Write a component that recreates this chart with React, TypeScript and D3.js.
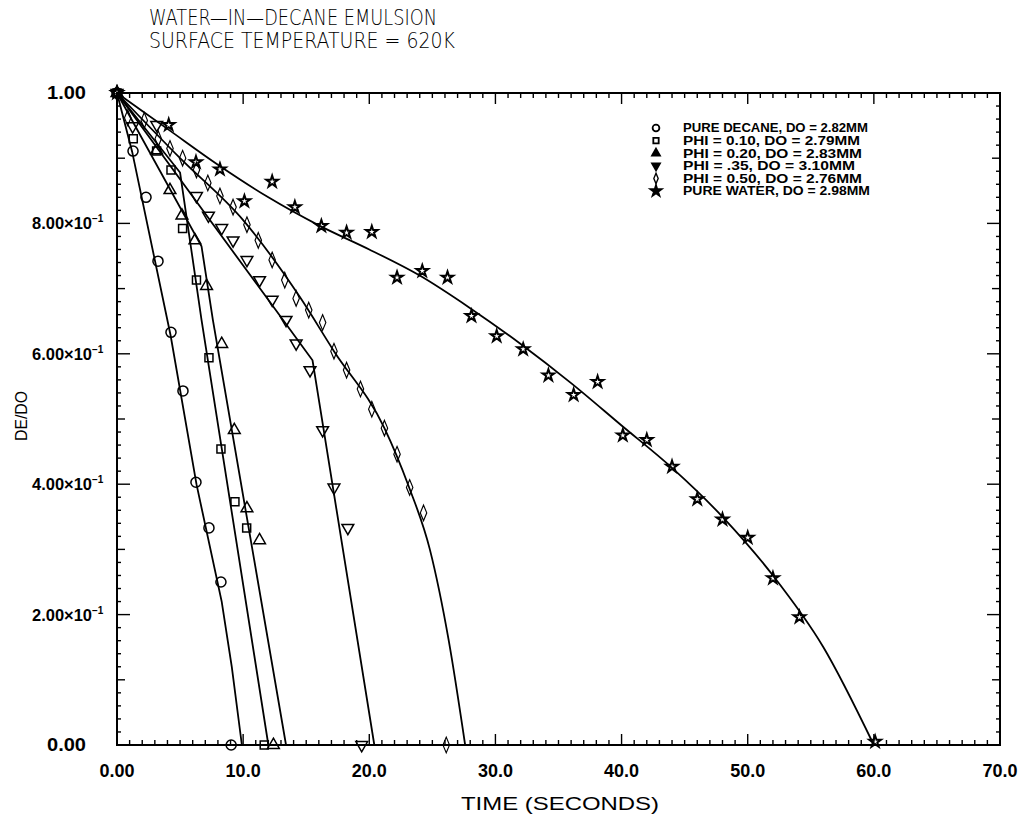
import React from 'react';
import * as d3 from 'd3';

// title / legend text
const titleLines = ['WATER—IN—DECANE EMULSION', 'SURFACE TEMPERATURE = 620K'];
const legendLabels = [
  'PURE DECANE, DO = 2.82MM',
  'PHI = 0.10, DO = 2.79MM',
  'PHI = 0.20, DO = 2.83MM',
  'PHI = .35, DO = 3.10MM',
  'PHI = 0.50, DO = 2.76MM',
  'PURE WATER, DO = 2.98MM',
];

// measured points [time (s), DE/DO]
const decanePts = [[0, 1], [1.27, 0.911], [2.3, 0.84], [3.25, 0.742], [4.28, 0.633], [5.23, 0.543], [6.26, 0.403], [7.29, 0.333], [8.24, 0.25], [9.05, 0]];
const phi10Pts = [[0, 1], [1.29, 0.93], [3.14, 0.911], [4.28, 0.882], [5.2, 0.792], [6.3, 0.713], [7.29, 0.594], [8.24, 0.454], [9.35, 0.373], [10.28, 0.333], [11.67, 0]];
const phi20Pts = [[0, 1], [3.14, 0.912], [4.2, 0.851], [5.15, 0.812], [6.18, 0.774], [7.1, 0.704], [8.3, 0.615], [9.3, 0.483], [10.3, 0.363], [11.3, 0.314], [12.4, 0]];
const phi35Pts = [[0, 1], [1.24, 0.949], [3.15, 0.951], [6.3, 0.842], [7.25, 0.812], [8.3, 0.793], [9.2, 0.774], [10.3, 0.744], [11.3, 0.713], [12.3, 0.683], [13.4, 0.652], [14.2, 0.616], [15.3, 0.575], [16.3, 0.483], [17.2, 0.395], [18.3, 0.333], [19.4, 0]];
const phi50Pts = [[0, 1], [0.85, 0.962], [2.16, 0.958], [3.27, 0.93], [4.2, 0.915], [5.2, 0.9], [6.3, 0.882], [7.2, 0.862], [8.16, 0.842], [9.2, 0.825], [10.3, 0.798], [11.2, 0.774], [12.3, 0.744], [13.3, 0.713], [14.2, 0.685], [15.2, 0.667], [16.3, 0.648], [17.2, 0.604], [18.2, 0.575], [19.3, 0.546], [20.2, 0.515], [21.2, 0.486], [22.2, 0.446], [23.2, 0.395], [24.3, 0.356], [26.1, 0]];
const waterPts = [[0, 1], [4.1, 0.951], [6.26, 0.894], [8.16, 0.883], [10.1, 0.834], [12.3, 0.864], [14.1, 0.825], [16.2, 0.796], [18.2, 0.786], [20.2, 0.787], [22.2, 0.717], [24.2, 0.727], [26.2, 0.717], [28.1, 0.658], [30.1, 0.627], [32.2, 0.607], [34.2, 0.567], [36.2, 0.537], [38.1, 0.557], [40.1, 0.475], [42.0, 0.468], [44.0, 0.427], [46.0, 0.377], [48.0, 0.346], [50.0, 0.318], [52.0, 0.256], [54.1, 0.196], [60.1, 0.005]];

// fitted curves
const decaneFit = [[0, 1], [1.2, 0.91], [4.25, 0.628], [6.3, 0.4], [8.3, 0.22], [9.1, 0.12], [9.9, 0]];
const phi10Fit = [[0, 1], [5.0, 0.878], [6.7, 0.652], [12.0, 0]];
const phi20Fit = [[0, 1], [6.7, 0.765], [7.6, 0.652], [13.4, 0]];
const phi35Fit = [[0, 1], [15.5, 0.59], [20.4, 0]];
const phi50Fit = [[0, 1], [5, 0.9], [10, 0.805], [14.5, 0.687], [17.2, 0.604], [21.2, 0.486], [23.1, 0.398], [24.8, 0.3], [26.3, 0.16], [27.6, 0]];
const waterFit = [[0, 1], [4, 0.945], [8, 0.89], [12, 0.84], [16, 0.797], [20, 0.76], [24, 0.72], [28, 0.67], [32, 0.615], [36, 0.555], [40, 0.49], [44, 0.425], [48, 0.35], [52, 0.26], [56, 0.15], [60, 0]];

// axis labels
const xTicks = [0, 10, 20, 30, 40, 50, 60, 70];
const xTickLabels = ['0.00', '10.0', '20.0', '30.0', '40.0', '50.0', '60.0', '70.0'];
const yTicks = [0, 0.2, 0.4, 0.6, 0.8, 1.0];
const yTickLabels = ['0.00', '2.00×10', '4.00×10', '6.00×10', '8.00×10', '1.00'];
const yTickExp = ['', '−1', '−1', '−1', '−1', ''];

const series = [
  { pts: decanePts, fit: decaneFit, sym: 'circle', smooth: false },
  { pts: phi10Pts, fit: phi10Fit, sym: 'square', smooth: false },
  { pts: phi20Pts, fit: phi20Fit, sym: 'tri', smooth: false },
  { pts: phi35Pts, fit: phi35Fit, sym: 'inv', smooth: false },
  { pts: phi50Pts, fit: phi50Fit, sym: 'diamond', smooth: true },
  { pts: waterPts, fit: waterFit, sym: 'star', smooth: true },
];

function symPath(sym: string, scale = 1) {
  const s = d3.symbol();
  if (sym === 'circle') return s.type(d3.symbolCircle).size(80 * scale)();
  if (sym === 'square') return s.type(d3.symbolSquare).size(64 * scale)();
  if (sym === 'tri' || sym === 'inv') return s.type(d3.symbolTriangle).size(60 * scale)();
  if (sym === 'diamond') return s.type(d3.symbolDiamond).size(70 * scale)();
  return s.type(d3.symbolStar).size(42 * scale)();
}

function symTransform(sym: string, px: number, py: number) {
  let t = `translate(${px},${py})`;
  if (sym === 'inv') t += ' rotate(180)';
  if (sym === 'diamond') t += ' scale(0.72,1)';
  return t;
}

export default function App() {
  const width = 1025;
  const height = 818;
  const x = d3.scaleLinear().domain([0, 70]).range([117, 1000]);
  const y = d3.scaleLinear().domain([0, 1]).range([745, 93]);
  const [x0, x1] = x.range();
  const [y0, y1] = y.range();

  const font = "'Liberation Sans', Arial, sans-serif";

  const xMinor = d3.range(0, 71, 1);
  const yMinor = d3.range(0, 51, 1).map(i => i * 0.02);

  const xLen = (v: number) => (v % 10 === 0 ? 11 : 5);
  const yLen = (i: number) => (i % 10 === 0 ? 13 : i % 5 === 0 ? 8 : 4);

  return (
    <svg width={width} height={height} style={{ position: 'absolute', left: 0, top: 0, background: '#fff' }}>
      {/* title */}
      {titleLines.map((t, i) => (
        <text key={t} x={149} y={25 + i * 23} fontFamily="'DejaVu Sans', sans-serif" fontWeight={200}
          fontSize={21} textLength={i === 0 ? 288 : 306} lengthAdjust="spacingAndGlyphs" fill="#000">{t}</text>
      ))}

      {/* frame */}
      <rect x={x0} y={y1} width={x1 - x0} height={y0 - y1} fill="none" stroke="#000" strokeWidth={2} />

      {/* x ticks bottom & top */}
      {xMinor.map(v => (
        <g key={'xt' + v} stroke="#000" strokeWidth={1.4}>
          <line x1={x(v)} x2={x(v)} y1={y0} y2={y0 - xLen(v)} />
          <line x1={x(v)} x2={x(v)} y1={y1} y2={y1 + xLen(v)} />
        </g>
      ))}
      {/* y ticks left & right */}
      {yMinor.map((v, i) => (
        <g key={'yt' + i} stroke="#000" strokeWidth={1.4}>
          <line x1={x0} x2={x0 + yLen(i)} y1={y(v)} y2={y(v)} />
          <line x1={x1} x2={x1 - yLen(i)} y1={y(v)} y2={y(v)} />
        </g>
      ))}

      {/* x tick labels */}
      {xTicks.map((v, i) => (
        <text key={'xl' + v} x={x(v)} y={777} textAnchor="middle" fontFamily={font} fontWeight="bold"
          fontSize={18} fill="#000">{xTickLabels[i]}</text>
      ))}

      {/* y tick labels */}
      {yTicks.map((v, i) => yTickExp[i] ? (
        <text key={'yl' + i} x={32} y={y(v) + 6} fontFamily={font} fontWeight="bold" fontSize={16} fill="#000">
          <tspan textLength={60} lengthAdjust="spacingAndGlyphs">{yTickLabels[i]}</tspan>
          <tspan fontSize={10} dy={-7}>{yTickExp[i]}</tspan>
        </text>
      ) : (
        <text key={'yl' + i} x={47} y={y(v) + 6} fontFamily={font} fontWeight="bold" fontSize={18}
          textLength={39} lengthAdjust="spacingAndGlyphs" fill="#000">{yTickLabels[i]}</text>
      ))}

      {/* axis titles */}
      <text x={560} y={810} textAnchor="middle" fontFamily={font} fontSize={18} textLength={198}
        lengthAdjust="spacingAndGlyphs" fill="#000">TIME (SECONDS)</text>
      <text transform="translate(27,416) rotate(-90)" textAnchor="middle" fontFamily={font} fontSize={17}
        textLength={50} lengthAdjust="spacingAndGlyphs" fill="#000">DE/DO</text>

      {/* fitted lines */}
      {series.map((s, i) => {
        const line = d3.line<number[]>()
          .x(d => x(d[0]))
          .y(d => y(d[1]))
          .curve(s.smooth ? d3.curveMonotoneX : d3.curveLinear);
        return <path key={'f' + i} d={line(s.fit) || ''} fill="none" stroke="#000" strokeWidth={1.8} />;
      })}

      {/* markers */}
      {series.map((s, i) => (
        <g key={'m' + i}>
          {s.pts.map((p, j) => (
            <path key={j} d={symPath(s.sym) || ''} transform={symTransform(s.sym, x(p[0]), y(p[1]))}
              fill="none" stroke="#000" strokeWidth={s.sym === 'star' ? 2 : 1.5} />
          ))}
        </g>
      ))}

      {/* legend */}
      {legendLabels.map((t, i) => {
        const cy = 128 + i * 12.6;
        const filled = i === 2 || i === 3 || i === 5;
        const tl = [185, 177, 179, 172, 179, 187][i];
        return (
          <g key={'lg' + i}>
            <path d={symPath(series[i].sym, series[i].sym === 'star' ? 0.9 : 0.45) || ''}
              transform={symTransform(series[i].sym, 656, cy)}
              fill={filled ? '#000' : 'none'} stroke="#000" strokeWidth={1.8} />
            <text x={683} y={cy + 4.3} fontFamily={font} fontWeight="bold" fontSize={12} textLength={tl}
              lengthAdjust="spacingAndGlyphs" fill="#000">{t}</text>
          </g>
        );
      })}
    </svg>
  );
}
